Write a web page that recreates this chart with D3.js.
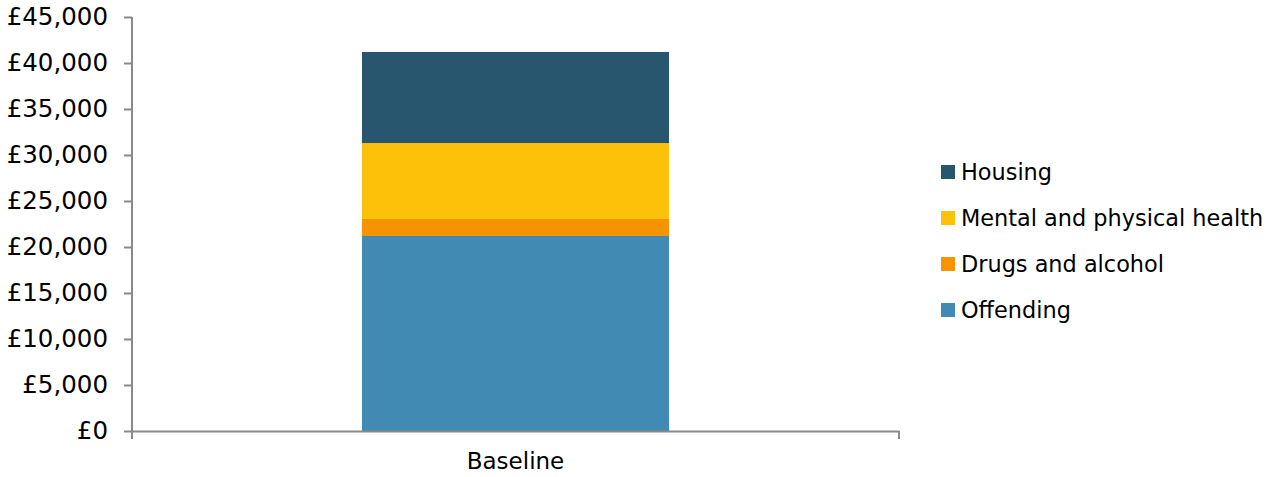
<!DOCTYPE html>
<html>
<head>
<meta charset="utf-8">
<script src="https://cdn.jsdelivr.net/npm/d3@7"></script>
<style>
  body { margin: 0; background: #fff; }
  svg text { font-family: "DejaVu Sans", sans-serif; fill: #000; }
</style>
</head>
<body>
<div id="chart"></div>
<script>
const categories = ["Baseline"]
const seriesNames = ["Offending", "Drugs and alcohol", "Mental and physical health", "Housing"]
const offending = [21200]
const drugs = [1850]
const health = [8250]
const housing = [9900]
const yTicks = [0, 5000, 10000, 15000, 20000, 25000, 30000, 35000, 40000, 45000]
const colours = ["#418AB3", "#F59300", "#FDC10A", "#27566E"]

const W = 1276, H = 477
const margin = { top: 17, left: 132, right: 377, bottom: 46 }
const width = W - margin.left - margin.right,
  height = H - margin.top - margin.bottom

const rows = categories.map((c, i) => ({
  cat: c,
  "Offending": offending[i],
  "Drugs and alcohol": drugs[i],
  "Mental and physical health": health[i],
  "Housing": housing[i]
}))
const stacked = d3.stack().keys(seriesNames)(rows)

const svg = d3.select("#chart").append("svg")
  .attr("width", W).attr("height", H)
const g = svg.append("g")
  .attr("transform", "translate(" + margin.left + "," + margin.top + ")")

const x = d3.scaleBand().domain(categories).range([0, width]).paddingInner(0).paddingOuter(0.749)
const y = d3.scaleLinear().domain([0, 45000]).range([height, 0])

// bars
g.selectAll(".layer").data(stacked).join("g")
  .attr("fill", (d, i) => colours[i])
  .selectAll("rect").data(d => d).join("rect")
  .attr("x", d => x(d.data.cat))
  .attr("width", x.bandwidth())
  .attr("y", d => y(d[1]))
  .attr("height", d => y(d[0]) - y(d[1]))

// y axis
const yAxis = g.append("g")
  .call(d3.axisLeft(y).tickValues(yTicks).tickSize(8).tickPadding(16)
    .tickFormat(d => "£" + d3.format(",")(d)))
yAxis.selectAll("text").style("font-size", "24.5px")

// x axis
const xAxis = g.append("g")
  .attr("transform", "translate(0," + height + ")")
  .call(d3.axisBottom(x).tickSize(0).tickPadding(22))
xAxis.selectAll("text").style("font-size", "23px")
xAxis.append("line")
  .attr("x1", 0).attr("x2", 0).attr("y1", 0).attr("y2", 8)
xAxis.append("line")
  .attr("x1", width).attr("x2", width).attr("y1", 0).attr("y2", 8)

svg.selectAll(".domain").attr("stroke", "#898989").attr("stroke-width", 2)
svg.selectAll(".tick line").attr("stroke", "#898989").attr("stroke-width", 2)
xAxis.selectAll(":scope > line").attr("stroke", "#898989").attr("stroke-width", 2)
yAxis.select(".domain").attr("d", "M0," + y(45000) + "V" + height)

// legend (top entry is Housing)
const legend = svg.append("g").attr("transform", "translate(941,172)")
const legendItems = seriesNames.map((n, i) => ({ name: n, colour: colours[i] })).reverse()
const li = legend.selectAll("g").data(legendItems).join("g")
  .attr("transform", (d, i) => "translate(0," + i * 46 + ")")
li.append("rect").attr("x", 0).attr("y", -7).attr("width", 14).attr("height", 14)
  .attr("fill", d => d.colour)
li.append("text").attr("x", 20).attr("dy", "0.35em")
  .style("font-size", "22.4px").text(d => d.name)
</script>
</body>
</html>
